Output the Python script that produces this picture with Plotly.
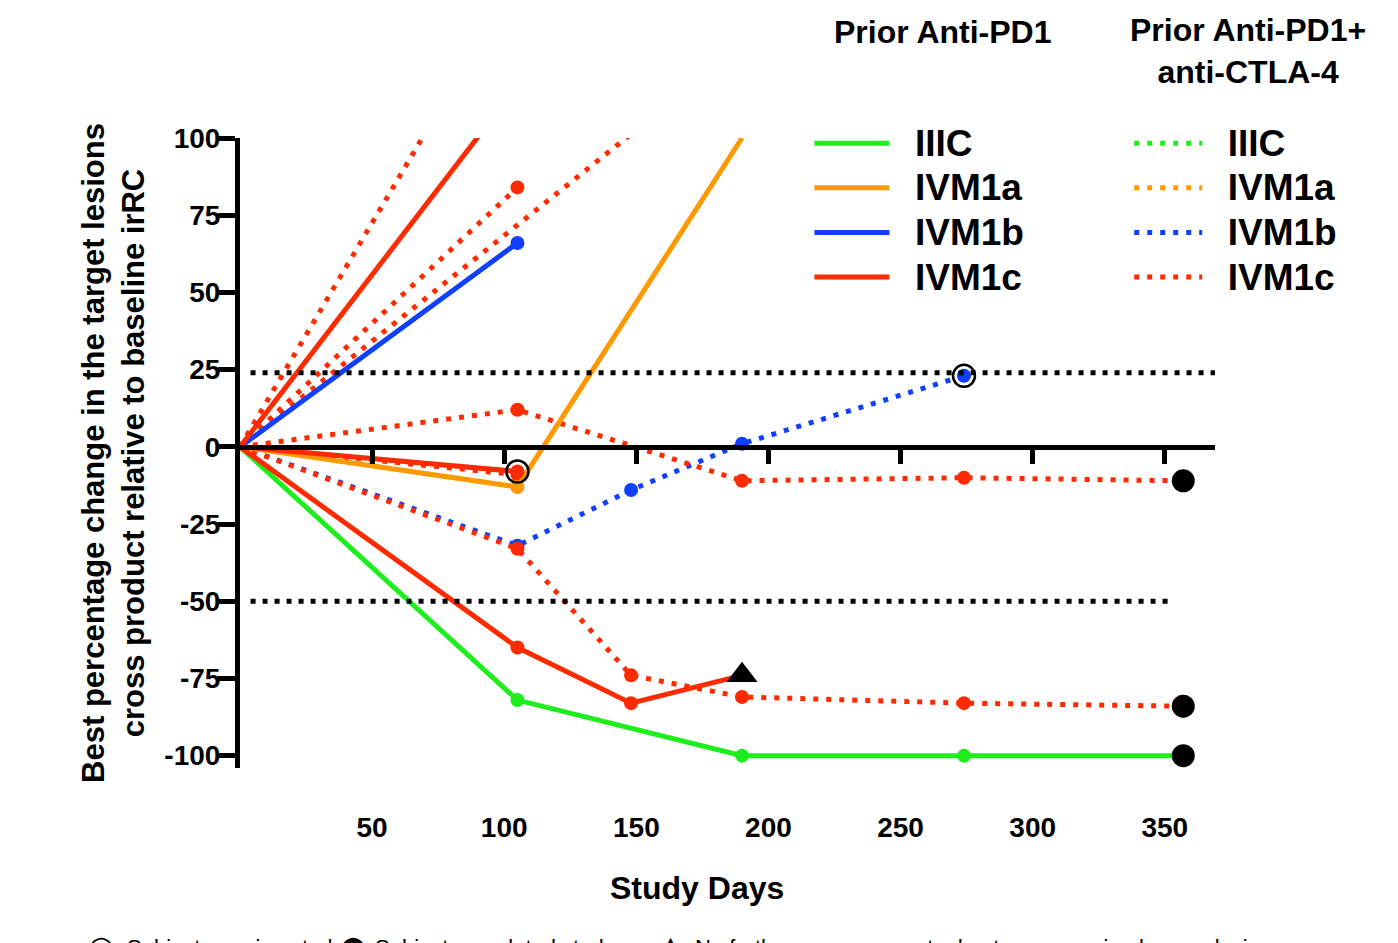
import plotly.graph_objects as go

FONT = "Liberation Sans, Arial, sans-serif"

# ---------------- data ----------------
stages = ["IIIC", "IVM1a", "IVM1b", "IVM1c"]
stage_colors = ["#1EEE1E", "#FF9900", "#0F3FFF", "#FF2B00"]

# Prior anti-PD1 (solid lines): days and % change
pd1_iiic_days = [0, 105, 190, 274, 357]
pd1_iiic_pct = [0, -82, -100, -100, -100]
pd1_ivm1a_days = [0, 105, 190]
pd1_ivm1a_pct = [0, -13, 100]
pd1_ivm1b_days = [0, 105]
pd1_ivm1b_pct = [0, 66]
pd1_ivm1c_a_days = [0, 105]
pd1_ivm1c_a_pct = [0, 117]
pd1_ivm1c_b_days = [0, 105, 148, 190]
pd1_ivm1c_b_pct = [0, -65, -83, -74]
pd1_ivm1c_c_days = [0, 105]
pd1_ivm1c_c_pct = [0, -8]

# Prior anti-PD1 + anti-CTLA-4 (dotted lines)
combo_ivm1b_days = [0, 105, 148, 190, 274]
combo_ivm1b_pct = [0, -32, -14, 1, 23]
combo_ivm1c_a_days = [0, 100]
combo_ivm1c_a_pct = [0, 145]
combo_ivm1c_b_days = [0, 105]
combo_ivm1c_b_pct = [0, 84]
combo_ivm1c_c_days = [0, 190]
combo_ivm1c_c_pct = [0, 130]
combo_ivm1c_d_days = [0, 105, 190, 274, 357]
combo_ivm1c_d_pct = [0, 12, -11, -10, -11]
combo_ivm1c_e_days = [0, 105, 148, 190, 274, 357]
combo_ivm1c_e_pct = [0, -33, -74, -81, -83, -84]
combo_ivm1c_f_days = [0, 105]
combo_ivm1c_f_pct = [0, -9]

# status symbols
ongoing_days = [105, 274]
ongoing_pct = [-8, 23]
completed_days = [357, 357, 357]
completed_pct = [-100, -11, -84]
nofurther_days = [190]
nofurther_pct = [-74]

# irRC thresholds
thr_up_days = [4, 369]
thr_up_pct = [24, 24]
thr_low_days = [4, 352]
thr_low_pct = [-50, -50]

x_ticks = [50, 100, 150, 200, 250, 300, 350]
y_ticks = [-100, -75, -50, -25, 0, 25, 50, 75, 100]
y_tick_labels = ["-100", "-75", "-50", "-25", "0", "25", "50", "75", "100"]

footnote_symbols = ["○", "●", "▲"]
footnote_texts = ["Subject ongoing study", "Subject completed study",
                  "No further measurements due to progression by new lesions"]

pd1_series = [
    ("IIIC", pd1_iiic_days, pd1_iiic_pct),
    ("IVM1a", pd1_ivm1a_days, pd1_ivm1a_pct),
    ("IVM1b", pd1_ivm1b_days, pd1_ivm1b_pct),
    ("IVM1c", pd1_ivm1c_a_days, pd1_ivm1c_a_pct),
    ("IVM1c", pd1_ivm1c_b_days, pd1_ivm1c_b_pct),
    ("IVM1c", pd1_ivm1c_c_days, pd1_ivm1c_c_pct),
]
combo_series = [
    ("IIIC", [None], [None]),
    ("IVM1a", [None], [None]),
    ("IVM1b", combo_ivm1b_days, combo_ivm1b_pct),
    ("IVM1c", combo_ivm1c_a_days, combo_ivm1c_a_pct),
    ("IVM1c", combo_ivm1c_b_days, combo_ivm1c_b_pct),
    ("IVM1c", combo_ivm1c_c_days, combo_ivm1c_c_pct),
    ("IVM1c", combo_ivm1c_d_days, combo_ivm1c_d_pct),
    ("IVM1c", combo_ivm1c_e_days, combo_ivm1c_e_pct),
    ("IVM1c", combo_ivm1c_f_days, combo_ivm1c_f_pct),
]

color_of = dict(zip(stages, stage_colors))
fig = go.Figure()

# threshold lines (on the overlay x-axis that carries the zero line)
for xs, ys in [(thr_up_days, thr_up_pct), (thr_low_days, thr_low_pct)]:
    fig.add_trace(go.Scatter(x=xs, y=ys, xaxis="x2", mode="lines",
                             line=dict(color="black", width=5, dash="5px,7px"),
                             showlegend=False, hoverinfo="skip"))


def legend_label(stage):
    return ('<span style="font-size:37px">\u00a0\u00a0' + stage + '</span>')


def add_group(series, dash, legend_name, width):
    seen = set()
    for stage, xs, ys in series:
        col = color_of[stage]
        first = stage not in seen
        seen.add(stage)
        fig.add_trace(go.Scatter(
            x=xs, y=ys, mode="lines", name=legend_label(stage),
            line=dict(color=col, width=width, dash=dash),
            legend=legend_name, legendgroup=legend_name + stage,
            showlegend=first, hoverinfo="skip"))
        pts = [(x, y) for x, y in zip(xs, ys)
               if x is not None and x > 0 and y < 100]
        if pts:
            fig.add_trace(go.Scatter(
                x=[p[0] for p in pts], y=[p[1] for p in pts], mode="markers",
                marker=dict(color=col, size=14),
                legend=legend_name, legendgroup=legend_name + stage,
                showlegend=False, hoverinfo="skip"))


add_group(combo_series, "5px,8px", "legend2", 5)
add_group(pd1_series, "solid", "legend", 5)

fig.add_trace(go.Scatter(x=ongoing_days, y=ongoing_pct, mode="markers",
                         marker=dict(symbol="circle-open", size=22, color="black",
                                     line=dict(width=2.5)),
                         showlegend=False, hoverinfo="skip", cliponaxis=False))
fig.add_trace(go.Scatter(x=completed_days, y=completed_pct, mode="markers",
                         marker=dict(symbol="circle", size=23, color="black"),
                         showlegend=False, hoverinfo="skip", cliponaxis=False))
fig.add_trace(go.Scatter(x=nofurther_days, y=nofurther_pct, mode="markers",
                         marker=dict(symbol="triangle-up", size=27, color="black"),
                         showlegend=False, hoverinfo="skip", cliponaxis=False))

ymin, ymax = -104, 100
annotations = [
    dict(text="Prior Anti-PD1", x=0.721, y=1.168, xref="paper", yref="paper",
         showarrow=False, xanchor="center", yanchor="middle",
         font=dict(size=32, weight="bold", family=FONT)),
    dict(text="Prior Anti-PD1+<br>anti-CTLA-4", x=1.034, y=1.138,
         xref="paper", yref="paper", showarrow=False,
         xanchor="center", yanchor="middle",
         font=dict(size=32, weight="bold", family=FONT)),
    dict(text="Study Days", x=0.469, y=-0.1905, xref="paper", yref="paper",
         showarrow=False, xanchor="center", yanchor="middle",
         font=dict(size=32, weight="bold", family=FONT)),
]
for sym, xp in zip(footnote_symbols, [-0.158, 0.1, 0.428]):
    annotations.append(dict(text=sym, x=xp, y=-0.252, xref="paper", yref="paper",
                            showarrow=False, xanchor="left", yanchor="top",
                            font=dict(size=30, family="DejaVu Sans")))
for txt, xp in zip(footnote_texts, [-0.118, 0.136, 0.465]):
    annotations.append(dict(text=txt, x=xp, y=-0.262, xref="paper", yref="paper",
                            showarrow=False, xanchor="left", yanchor="top",
                            font=dict(size=22, family=FONT)))

fig.update_layout(
    width=1390, height=935,
    margin=dict(l=232, r=183, t=130, b=175),
    paper_bgcolor="white", plot_bgcolor="white",
    font=dict(family=FONT, color="black"),
    xaxis=dict(range=[0, 369], showline=False, showgrid=False, zeroline=False,
               ticks="", tickvals=x_ticks, ticklabelstandoff=40,
               tickfont=dict(size=28, weight="bold", family=FONT)),
    xaxis2=dict(range=[0, 369], overlaying="x", anchor="free",
                position=(0 - ymin) / (ymax - ymin),
                showline=True, linecolor="black", linewidth=5,
                ticks="outside", ticklen=14, tickwidth=5, tickcolor="black",
                tickvals=x_ticks, showticklabels=False, showgrid=False,
                zeroline=False),
    yaxis=dict(range=[ymin, ymax], showline=True, linecolor="black", linewidth=5,
               ticks="outside", ticklen=17, tickwidth=5, tickcolor="black",
               tickvals=y_ticks, ticktext=y_tick_labels, ticklabelstandoff=-8,
               showgrid=False, zeroline=False,
               tickfont=dict(size=28, weight="bold", family=FONT),
               title=dict(text="Best percentage change in the target lesions<br>"
                               "cross product relative to baseline irRC",
                          font=dict(size=31, weight="bold", family=FONT),
                          standoff=12)),
    legend=dict(x=0.584, y=1.035, xanchor="left", yanchor="top",
                font=dict(size=32, weight="bold", family=FONT),
                itemwidth=75, bgcolor="rgba(0,0,0,0)", traceorder="normal"),
    legend2=dict(x=0.912, y=1.035, xanchor="left", yanchor="top",
                 font=dict(size=32, weight="bold", family=FONT),
                 itemwidth=68, bgcolor="rgba(0,0,0,0)", traceorder="normal"),
    annotations=annotations,
)

fig.write_html("out.html")
